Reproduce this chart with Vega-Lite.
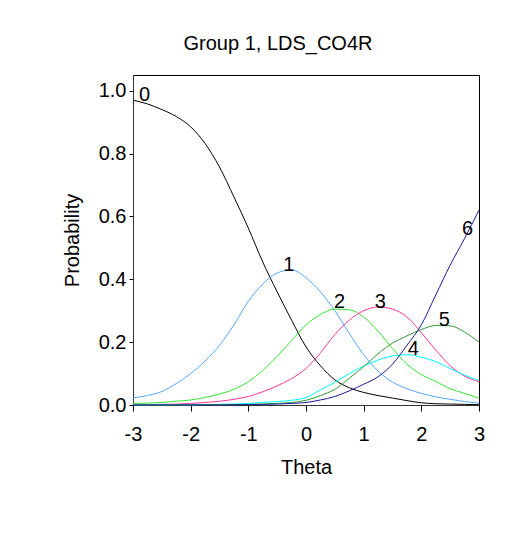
{
  "$schema": "https://vega.github.io/schema/vega-lite/v6.json",
  "autosize": "none",
  "width": 346,
  "height": 330,
  "padding": {"left": 133, "top": 75, "right": 42, "bottom": 131},
  "background": "white",
  "title": {"text": "Group 1, LDS_CO4R", "fontSize": 20, "font": "Liberation Sans", "fontWeight": "normal", "color": "#000", "anchor": "middle", "dx": -28, "offset": 21},
  "config": {
    "view": {"stroke": "#000", "strokeWidth": 1},
    "axis": {"grid": false, "labelFont": "Liberation Sans", "titleFont": "Liberation Sans", "labelFontSize": 20, "titleFontSize": 20, "titleFontWeight": "normal", "labelColor": "#000", "titleColor": "#000", "domainColor": "#333", "tickColor": "#000"}
  },
  "datasets": {
    "curves": [
      {"theta": -3, "P0": 0.970, "P1": 0.023, "P2": 0.005, "P3": 0.001, "P4": 0.000, "P5": 0.000, "P6": 0.000},
      {"theta": -2.75, "P0": 0.958, "P1": 0.030, "P2": 0.006, "P3": 0.0015, "P4": 0.000, "P5": 0.000, "P6": 0.000},
      {"theta": -2.5, "P0": 0.940, "P1": 0.043, "P2": 0.008, "P3": 0.002, "P4": 0.0005, "P5": 0.000, "P6": 0.000},
      {"theta": -2.25, "P0": 0.918, "P1": 0.068, "P2": 0.012, "P3": 0.003, "P4": 0.001, "P5": 0.000, "P6": 0.000},
      {"theta": -2, "P0": 0.885, "P1": 0.100, "P2": 0.016, "P3": 0.005, "P4": 0.001, "P5": 0.000, "P6": 0.000},
      {"theta": -1.75, "P0": 0.832, "P1": 0.140, "P2": 0.024, "P3": 0.008, "P4": 0.0015, "P5": 0.0005, "P6": 0.000},
      {"theta": -1.5, "P0": 0.757, "P1": 0.190, "P2": 0.035, "P3": 0.012, "P4": 0.002, "P5": 0.001, "P6": 0.000},
      {"theta": -1.25, "P0": 0.662, "P1": 0.255, "P2": 0.050, "P3": 0.018, "P4": 0.003, "P5": 0.0015, "P6": 0.0005},
      {"theta": -1, "P0": 0.563, "P1": 0.330, "P2": 0.074, "P3": 0.027, "P4": 0.005, "P5": 0.002, "P6": 0.001},
      {"theta": -0.75, "P0": 0.455, "P1": 0.385, "P2": 0.110, "P3": 0.042, "P4": 0.008, "P5": 0.003, "P6": 0.002},
      {"theta": -0.5, "P0": 0.360, "P1": 0.420, "P2": 0.155, "P3": 0.061, "P4": 0.011, "P5": 0.005, "P6": 0.003},
      {"theta": -0.25, "P0": 0.270, "P1": 0.430, "P2": 0.205, "P3": 0.084, "P4": 0.015, "P5": 0.008, "P6": 0.005},
      {"theta": 0, "P0": 0.185, "P1": 0.405, "P2": 0.255, "P3": 0.116, "P4": 0.024, "P5": 0.015, "P6": 0.008},
      {"theta": 0.25, "P0": 0.125, "P1": 0.360, "P2": 0.288, "P3": 0.166, "P4": 0.048, "P5": 0.030, "P6": 0.016},
      {"theta": 0.5, "P0": 0.080, "P1": 0.300, "P2": 0.305, "P3": 0.224, "P4": 0.072, "P5": 0.050, "P6": 0.027},
      {"theta": 0.75, "P0": 0.055, "P1": 0.228, "P2": 0.303, "P3": 0.270, "P4": 0.100, "P5": 0.085, "P6": 0.045},
      {"theta": 1, "P0": 0.040, "P1": 0.160, "P2": 0.280, "P3": 0.300, "P4": 0.124, "P5": 0.122, "P6": 0.066},
      {"theta": 1.25, "P0": 0.030, "P1": 0.108, "P2": 0.235, "P3": 0.312, "P4": 0.143, "P5": 0.163, "P6": 0.090},
      {"theta": 1.5, "P0": 0.022, "P1": 0.073, "P2": 0.180, "P3": 0.305, "P4": 0.156, "P5": 0.197, "P6": 0.130},
      {"theta": 1.75, "P0": 0.014, "P1": 0.052, "P2": 0.130, "P3": 0.280, "P4": 0.160, "P5": 0.220, "P6": 0.190},
      {"theta": 2, "P0": 0.007, "P1": 0.037, "P2": 0.097, "P3": 0.230, "P4": 0.152, "P5": 0.240, "P6": 0.255},
      {"theta": 2.25, "P0": 0.004, "P1": 0.026, "P2": 0.075, "P3": 0.175, "P4": 0.138, "P5": 0.253, "P6": 0.350},
      {"theta": 2.5, "P0": 0.003, "P1": 0.018, "P2": 0.052, "P3": 0.125, "P4": 0.116, "P5": 0.252, "P6": 0.445},
      {"theta": 2.75, "P0": 0.002, "P1": 0.011, "P2": 0.037, "P3": 0.092, "P4": 0.095, "P5": 0.232, "P6": 0.530},
      {"theta": 3, "P0": 0.001, "P1": 0.006, "P2": 0.022, "P3": 0.074, "P4": 0.078, "P5": 0.200, "P6": 0.620}
    ],
    "labels": [
      {"label": "0", "theta": -2.8, "p": 0.985},
      {"label": "1", "theta": -0.3, "p": 0.445},
      {"label": "2", "theta": 0.58, "p": 0.327},
      {"label": "3", "theta": 1.29, "p": 0.327},
      {"label": "4", "theta": 1.86, "p": 0.177},
      {"label": "5", "theta": 2.4, "p": 0.27},
      {"label": "6", "theta": 2.8, "p": 0.56}
    ]
  },
  "layer": [
    {
      "data": {"name": "curves"},
      "transform": [{"fold": ["P0", "P1", "P2", "P3", "P4", "P5", "P6"], "as": ["cat", "prob"]}],
      "mark": {"type": "line", "strokeWidth": 1, "interpolate": "monotone"},
      "encoding": {
        "x": {"field": "theta", "type": "quantitative", "scale": {"domain": [-3, 3], "nice": false}, "title": "Theta",
          "axis": {"values": [-3, -2.5, -2, -1.5, -1, -0.5, 0, 0.5, 1, 1.5, 2, 2.5, 3], "labelExpr": "datum.value == round(datum.value) ? '' + datum.value : ''", "tickSize": 6, "labelPadding": 13, "titlePadding": 13, "labelFlush": false}},
        "y": {"field": "prob", "type": "quantitative", "scale": {"domain": [0, 1.05], "nice": false}, "title": "Probability",
          "axis": {"values": [0, 0.1, 0.2, 0.3, 0.4, 0.5, 0.6, 0.7, 0.8, 0.9, 1.0], "labelExpr": "round(datum.value * 10) % 2 == 0 ? format(datum.value, '.1f') : ''", "tickSize": 4, "labelPadding": 3, "titlePadding": 16, "labelFlush": false}},
        "color": {"field": "cat", "type": "nominal", "legend": null,
          "scale": {"domain": ["P0", "P1", "P2", "P3", "P4", "P5", "P6"], "range": ["#000000", "#55a8ff", "#33e633", "#ff3399", "#00ffff", "#339933", "#1a1a99"]}}
      }
    },
    {
      "data": {"name": "labels"},
      "mark": {"type": "text", "font": "Liberation Sans", "fontSize": 20, "align": "center", "baseline": "middle", "color": "#000"},
      "encoding": {
        "x": {"field": "theta", "type": "quantitative"},
        "y": {"field": "p", "type": "quantitative"},
        "text": {"field": "label"}
      }
    }
  ]
}
